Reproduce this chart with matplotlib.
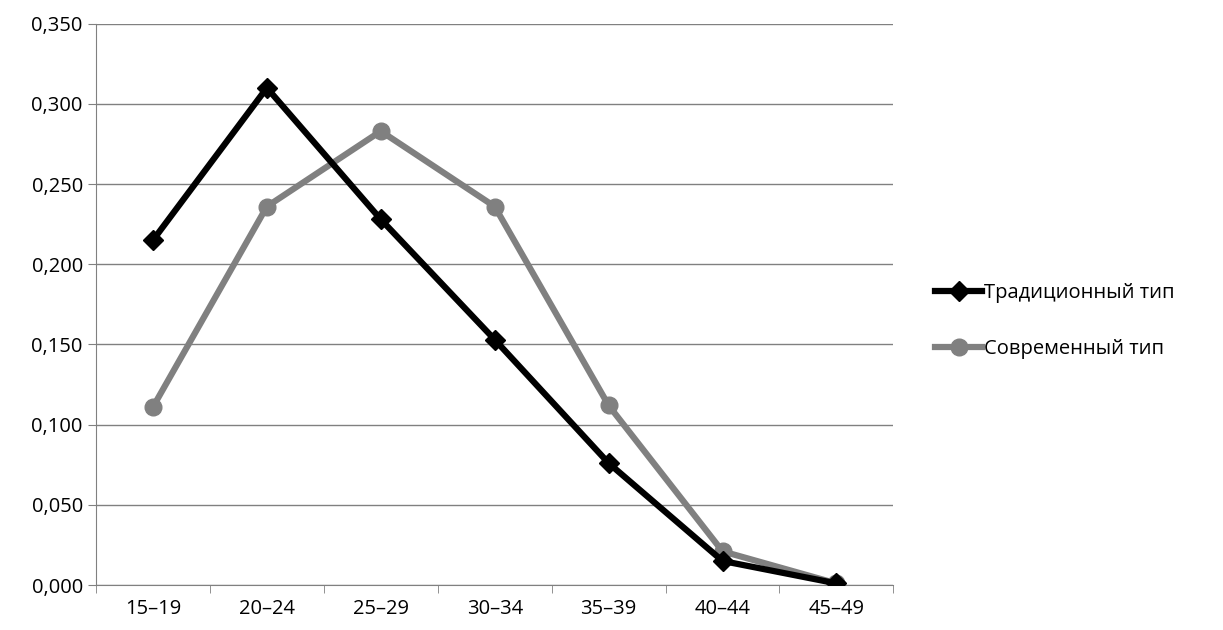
import numpy as np
import matplotlib.pyplot as plt
from matplotlib.ticker import FuncFormatter, FixedLocator

plt.rcParams['font.family'] = ['Open Sans', 'DejaVu Sans']

age_groups = ["15–19", "20–24", "25–29", "30–34", "35–39", "40–44", "45–49"]
traditional = [0.215, 0.310, 0.228, 0.153, 0.076, 0.015, 0.001]
modern = [0.111, 0.236, 0.283, 0.236, 0.112, 0.021, 0.001]

fig = plt.figure(figsize=(12.23, 6.3), dpi=100)
ax = fig.add_axes([0.0785, 0.0714, 0.652, 0.891])

x = np.arange(len(age_groups))
ax.plot(x, traditional, color='black', lw=4.5, marker='D', ms=10, label='Традиционный тип', zorder=3)
ax.plot(x, modern, color='#808080', lw=4.5, marker='o', ms=12, label='Современный тип', zorder=2)

ax.set_xlim(-0.5, 6.5)
ax.set_ylim(0, 0.35)
ax.set_yticks(np.arange(0, 0.351, 0.05))
ax.yaxis.set_major_formatter(FuncFormatter(lambda v, p: f"{v:.3f}".replace('.', ',')))
ax.set_xticks(x)
ax.set_xticklabels(age_groups)
ax.xaxis.set_minor_locator(FixedLocator(np.arange(-0.5, 7, 1)))
ax.tick_params(axis='x', which='major', length=0, labelsize=14.5, pad=10)
ax.tick_params(axis='x', which='minor', length=6, color='#808080')
ax.tick_params(axis='y', length=6, color='#808080', labelsize=14.5)
ax.grid(axis='y', color='#808080', lw=1)
ax.set_axisbelow(True)
for s in ['top', 'right']:
    ax.spines[s].set_visible(False)
for s in ['left', 'bottom']:
    ax.spines[s].set_color('#808080')

ax.legend(loc='center left', bbox_to_anchor=(1.03, 0.47), frameon=False, fontsize=14.5,
          handlelength=2.3, handletextpad=0.1, labelspacing=1.8)

fig.savefig('out.png', dpi=100)
